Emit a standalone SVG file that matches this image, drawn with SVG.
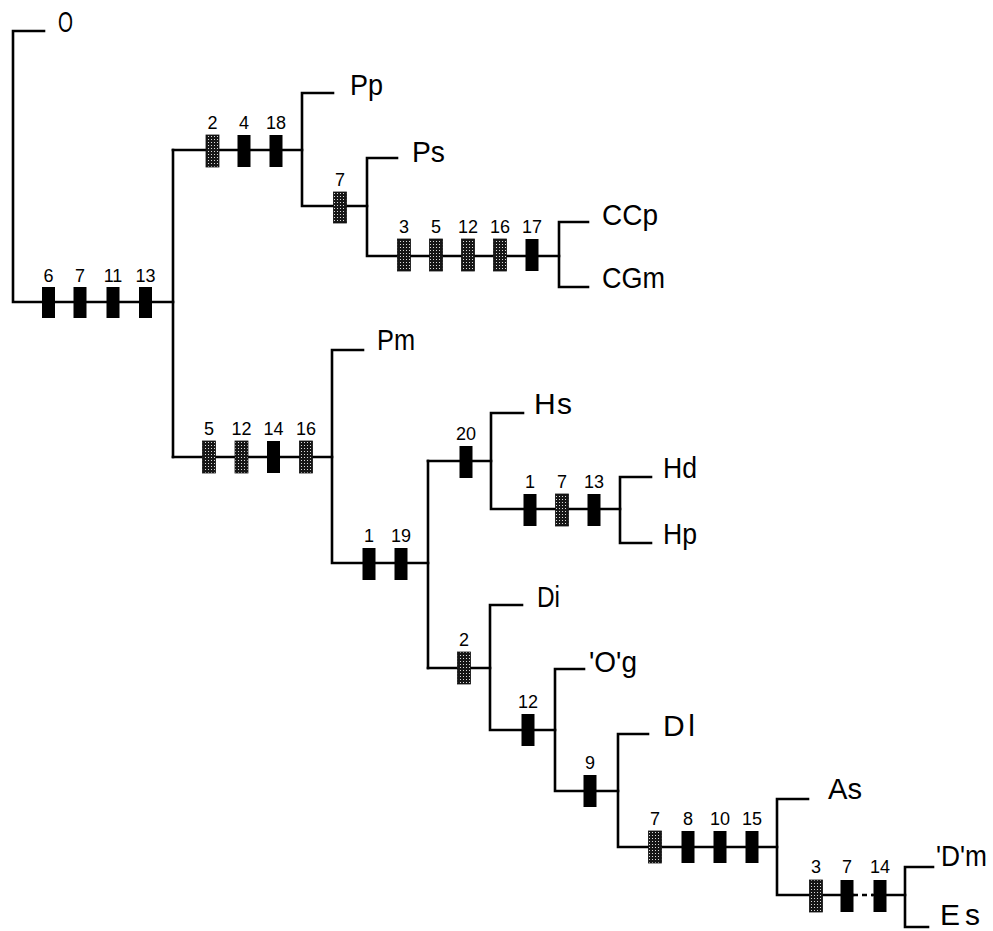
<svg xmlns="http://www.w3.org/2000/svg" width="993" height="931" viewBox="0 0 993 931">
<defs>
<pattern id="stip" width="3" height="3" patternUnits="userSpaceOnUse">
<rect width="3" height="3" fill="#161616"/>
<circle cx="1.5" cy="1.5" r="0.55" fill="#fff"/>
</pattern>
</defs>
<style>
.ln{fill:none;stroke:#000;stroke-width:2.6;stroke-linecap:square}
.dash{fill:none;stroke:#000;stroke-width:2.6;stroke-dasharray:5 4}
.b{fill:#000}
.h{fill:url(#stip);stroke:#111;stroke-width:0.8}
.n{font-family:"Liberation Sans",Arial,sans-serif;font-size:18px;text-anchor:middle;fill:#000}
.t{font-family:"Liberation Sans",Arial,sans-serif;font-size:30px;fill:#000}
</style>
<rect width="993" height="931" fill="#fff"/>
<g id="connectors">
<path class="ln" d="M44,31 H13 V302 H173"/>
<path class="ln" d="M173,150 V457"/>
<path class="ln" d="M173,150 H302"/>
<path class="ln" d="M173,457 H332"/>
<path class="ln" d="M333,93 H302 V206 H367"/>
<path class="ln" d="M397,158 H367 V256 H559"/>
<path class="ln" d="M588,222 H559 V287 H588"/>
<path class="ln" d="M363,350 H332 V563 H428"/>
<path class="ln" d="M428,461 V668"/>
<path class="ln" d="M428,461 H491"/>
<path class="ln" d="M523,413 H491 V509 H620"/>
<path class="ln" d="M651,477 H620 V543 H651"/>
<path class="ln" d="M428,668 H490"/>
<path class="ln" d="M522,605 H490 V730 H555"/>
<path class="ln" d="M584,669 H555 V791 H618"/>
<path class="ln" d="M648,734 H618 V847 H777"/>
<path class="ln" d="M808,799 H777 V895 H853"/>
<path class="dash" d="M853,895 H873"/>
<path class="ln" d="M873,895 H905"/>
<path class="ln" d="M933,867 H905 V927 H928"/>
</g>
<g id="characters">
<g id="br-root">
<rect class="b" x="42" y="287" width="13" height="31"/><text class="n" x="48.5" y="282">6</text>
<rect class="b" x="73.5" y="287" width="13" height="31"/><text class="n" x="80" y="282">7</text>
<rect class="b" x="106.5" y="287" width="13" height="31"/><text class="n" x="113" y="282">11</text>
<rect class="b" x="139" y="287" width="13" height="31"/><text class="n" x="145.5" y="282">13</text>
</g>
<g id="br-P">
<rect class="h" x="206" y="135" width="13" height="32"/><text class="n" x="212.5" y="129">2</text>
<rect class="b" x="237.5" y="135" width="13" height="32"/><text class="n" x="244" y="129">4</text>
<rect class="b" x="269.5" y="135" width="13" height="32"/><text class="n" x="276" y="129">18</text>
</g>
<g id="br-Ps">
<rect class="h" x="333.5" y="192" width="13" height="31"/><text class="n" x="340" y="186">7</text>
</g>
<g id="br-CC">
<rect class="h" x="397.5" y="239" width="13" height="32"/><text class="n" x="404" y="233">3</text>
<rect class="h" x="429.5" y="239" width="13" height="32"/><text class="n" x="436" y="233">5</text>
<rect class="h" x="461.5" y="239" width="13" height="32"/><text class="n" x="468" y="233">12</text>
<rect class="h" x="493.5" y="239" width="13" height="32"/><text class="n" x="500" y="233">16</text>
<rect class="b" x="525.5" y="239" width="13" height="32"/><text class="n" x="532" y="233">17</text>
</g>
<g id="br-Pm">
<rect class="h" x="202.5" y="441" width="13" height="32"/><text class="n" x="209" y="435">5</text>
<rect class="h" x="235" y="441" width="13" height="32"/><text class="n" x="241.5" y="435">12</text>
<rect class="b" x="267" y="441" width="13" height="32"/><text class="n" x="273.5" y="435">14</text>
<rect class="h" x="299.5" y="441" width="13" height="32"/><text class="n" x="306" y="435">16</text>
</g>
<g id="br-HD">
<rect class="b" x="362.5" y="548" width="13" height="32"/><text class="n" x="369" y="542">1</text>
<rect class="b" x="394.5" y="548" width="13" height="32"/><text class="n" x="401" y="542">19</text>
</g>
<g id="br-H">
<rect class="b" x="459.5" y="446" width="13" height="32"/><text class="n" x="466" y="440">20</text>
</g>
<g id="br-Hdp">
<rect class="b" x="523.5" y="494" width="13" height="32"/><text class="n" x="530" y="488">1</text>
<rect class="h" x="555.5" y="494" width="13" height="32"/><text class="n" x="562" y="488">7</text>
<rect class="b" x="587.5" y="494" width="13" height="32"/><text class="n" x="594" y="488">13</text>
</g>
<g id="br-D">
<rect class="h" x="457.5" y="652" width="13" height="32"/><text class="n" x="464" y="646">2</text>
</g>
<g id="br-Og">
<rect class="b" x="521.5" y="714" width="13" height="32"/><text class="n" x="528" y="708">12</text>
</g>
<g id="br-Dl">
<rect class="b" x="583.5" y="775" width="13" height="32"/><text class="n" x="590" y="769">9</text>
</g>
<g id="br-As">
<rect class="h" x="648.5" y="831" width="13" height="32"/><text class="n" x="655" y="825">7</text>
<rect class="b" x="681.5" y="831" width="13" height="32"/><text class="n" x="688" y="825">8</text>
<rect class="b" x="713.5" y="831" width="13" height="32"/><text class="n" x="720" y="825">10</text>
<rect class="b" x="745.5" y="831" width="13" height="32"/><text class="n" x="752" y="825">15</text>
</g>
<g id="br-DmEs">
<rect class="h" x="809.5" y="880" width="13" height="32"/><text class="n" x="816" y="873">3</text>
<rect class="b" x="840.5" y="880" width="13" height="32"/><text class="n" x="847" y="873">7</text>
<rect class="b" x="873.5" y="880" width="13" height="32"/><text class="n" x="880" y="873">14</text>
</g>
</g>
<g id="node-O"><text class="t" x="58" y="32" textLength="15" lengthAdjust="spacingAndGlyphs">O</text></g>
<g id="node-Pp"><text class="t" x="350" y="95" textLength="33" lengthAdjust="spacingAndGlyphs">Pp</text></g>
<g id="node-Ps"><text class="t" x="412" y="162" textLength="33" lengthAdjust="spacingAndGlyphs">Ps</text></g>
<g id="node-CCp"><text class="t" x="602" y="225" textLength="56" lengthAdjust="spacingAndGlyphs">CCp</text></g>
<g id="node-CGm"><text class="t" x="602" y="288" textLength="63" lengthAdjust="spacingAndGlyphs">CGm</text></g>
<g id="node-Pm"><text class="t" x="377" y="350" textLength="38" lengthAdjust="spacingAndGlyphs">Pm</text></g>
<g id="node-Hs"><text class="t" x="534" y="414" textLength="38">Hs</text></g>
<g id="node-Hd"><text class="t" x="663" y="478" textLength="34" lengthAdjust="spacingAndGlyphs">Hd</text></g>
<g id="node-Hp"><text class="t" x="663" y="544" textLength="34" lengthAdjust="spacingAndGlyphs">Hp</text></g>
<g id="node-Di"><text class="t" x="537" y="607" textLength="23" lengthAdjust="spacingAndGlyphs">Di</text></g>
<g id="node-Og"><text class="t" x="589" y="672" textLength="48" lengthAdjust="spacingAndGlyphs">'O'g</text></g>
<g id="node-Dl"><text class="t" x="663" y="736" textLength="32">Dl</text></g>
<g id="node-As"><text class="t" x="828" y="799" textLength="34" lengthAdjust="spacingAndGlyphs">As</text></g>
<g id="node-Dm"><text class="t" x="936" y="866" font-size="28" textLength="51" lengthAdjust="spacingAndGlyphs">'D'm</text></g>
<g id="node-Es"><text class="t" x="940" y="925" textLength="40">Es</text></g>
</svg>
